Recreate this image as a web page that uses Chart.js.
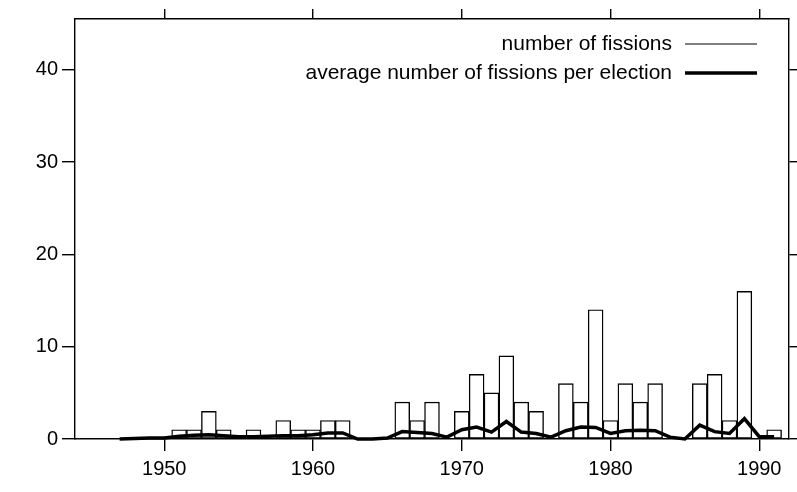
<!DOCTYPE html>
<html>
<head>
<meta charset="utf-8">
<script src="https://cdn.jsdelivr.net/npm/chart.js@4/dist/chart.umd.min.js"></script>
<style>
  html, body { margin: 0; padding: 0; background: #fff; }
  #wrap { width: 797px; height: 492px; }
</style>
</head>
<body>
<div id="wrap"><canvas id="c" width="797" height="492"></canvas></div>
<script>
// Fissions per year (years with no fission are left out)
const barYears = [1951, 1952, 1953, 1954, 1956, 1958, 1959, 1960, 1961, 1962,
                  1966, 1967, 1968, 1970, 1971, 1972, 1973, 1974, 1975,
                  1977, 1978, 1979, 1980, 1981, 1982, 1983,
                  1986, 1987, 1988, 1989, 1991];
const fissionCounts = [1, 1, 3, 1, 1, 2, 1, 1, 2, 2,
                       4, 2, 4, 3, 7, 5, 9, 4, 3,
                       6, 4, 14, 2, 6, 4, 6,
                       6, 7, 2, 16, 1];

// Average number of fissions per election, one value per year
const avgYears = [1947, 1948, 1949, 1950, 1951, 1952, 1953, 1954, 1955, 1956,
                  1957, 1958, 1959, 1960, 1961, 1962, 1963, 1964, 1965, 1966,
                  1967, 1968, 1969, 1970, 1971, 1972, 1973, 1974, 1975, 1976,
                  1977, 1978, 1979, 1980, 1981, 1982, 1983, 1984, 1985, 1986,
                  1987, 1988, 1989, 1990, 1991];
const avgFissions = [0, 0.05, 0.1, 0.1, 0.3, 0.4, 0.45, 0.35, 0.25, 0.25,
                     0.3, 0.35, 0.35, 0.45, 0.65, 0.65, 0, 0, 0.1, 0.8,
                     0.7, 0.6, 0.2, 1.0, 1.3, 0.75, 1.9, 0.75, 0.6, 0.2,
                     0.9, 1.3, 1.25, 0.6, 0.9, 0.95, 0.9, 0.2, 0, 1.5,
                     0.8, 0.6, 2.2, 0.25, 0.25];

const seriesLabels = ['number of fissions', 'average number of fissions per election'];
const xTickYears = [1950, 1960, 1970, 1980, 1990];
const yTickValues = [0, 10, 20, 30, 40];

const FONT = '"Liberation Sans", Arial, Helvetica, sans-serif';

// Legend drawn inside the plot frame: right-aligned text followed by a line sample
const insideLegend = {
  id: 'insideLegend',
  afterDraw(chart) {
    const { ctx, chartArea } = chart;
    const rows = chart.data.datasets.map(ds => ({ label: ds.label, width: ds.legendLineWidth }));
    const textRight = chartArea.right - 117;
    const lineStart = chartArea.right - 104;
    const lineEnd = chartArea.right - 32;
    ctx.save();
    ctx.font = '21px ' + FONT;
    ctx.fillStyle = '#000';
    ctx.textAlign = 'right';
    ctx.textBaseline = 'middle';
    rows.forEach((r, i) => {
      const y = chartArea.top + 25 + i * 29;
      ctx.fillText(r.label, textRight, y);
      ctx.beginPath();
      ctx.lineWidth = r.width;
      ctx.strokeStyle = '#000';
      ctx.moveTo(lineStart, y);
      ctx.lineTo(lineEnd, y);
      ctx.stroke();
    });
    ctx.restore();
  }
};

const toPoints = (xs, ys) => xs.map((x, i) => ({ x: x, y: ys[i] }));

new Chart(document.getElementById('c'), {
  data: {
    datasets: [
      {
        type: 'bar',
        label: seriesLabels[0],
        data: toPoints(barYears, fissionCounts),
        backgroundColor: '#fff',
        borderColor: '#000',
        borderWidth: 1.4,
        borderSkipped: false,
        barPercentage: 1,
        categoryPercentage: 1,
        order: 1,
        legendLineWidth: 1.2
      },
      {
        type: 'line',
        label: seriesLabels[1],
        data: toPoints(avgYears, avgFissions),
        borderColor: '#000',
        borderWidth: 3.5,
        pointRadius: 0,
        tension: 0,
        clip: false,
        order: 0,
        legendLineWidth: 3.5
      }
    ]
  },
  options: {
    responsive: false,
    animation: false,
    devicePixelRatio: 1,
    layout: { padding: 0 },
    plugins: { legend: { display: false }, tooltip: { enabled: false } },
    scales: {
      x: {
        type: 'linear',
        position: 'bottom',
        offset: false,
        min: 1944,
        max: 1992,
        afterBuildTicks: s => { s.ticks = xTickYears.map(v => ({ value: v })); },
        afterFit: s => { s.height = 53; },
        ticks: { color: '#000', font: { family: FONT, size: 20 }, padding: 6, maxRotation: 0,
                 callback: v => String(v) },
        grid: { offset: false, drawOnChartArea: false, drawTicks: true, tickLength: 12, color: '#000', lineWidth: 1.4 },
        border: { display: true, color: '#000', width: 1.4 }
      },
      xTop: {
        type: 'linear',
        position: 'top',
        offset: false,
        min: 1944,
        max: 1992,
        afterBuildTicks: s => { s.ticks = xTickYears.map(v => ({ value: v })); },
        afterFit: s => { s.height = 19; },
        ticks: { display: false },
        grid: { offset: false, drawOnChartArea: false, drawTicks: true, tickLength: 10, color: '#000', lineWidth: 1.4 },
        border: { display: true, color: '#000', width: 1.4 }
      },
      y: {
        type: 'linear',
        position: 'left',
        min: 0,
        max: 45.5,
        afterBuildTicks: s => { s.ticks = yTickValues.map(v => ({ value: v })); },
        afterFit: s => { s.width = 75; },
        ticks: { color: '#000', font: { family: FONT, size: 20 }, padding: 4 },
        grid: { drawOnChartArea: false, drawTicks: true, tickLength: 13, color: '#000', lineWidth: 1.4 },
        border: { display: true, color: '#000', width: 1.4 }
      },
      yRight: {
        type: 'linear',
        position: 'right',
        min: 0,
        max: 45.5,
        afterBuildTicks: s => { s.ticks = yTickValues.map(v => ({ value: v })); },
        afterFit: s => { s.width = 8; },
        ticks: { display: false },
        grid: { drawOnChartArea: false, drawTicks: true, tickLength: 8, color: '#000', lineWidth: 1.4 },
        border: { display: true, color: '#000', width: 1.4 }
      }
    }
  },
  plugins: [insideLegend]
});
</script>
</body>
</html>
